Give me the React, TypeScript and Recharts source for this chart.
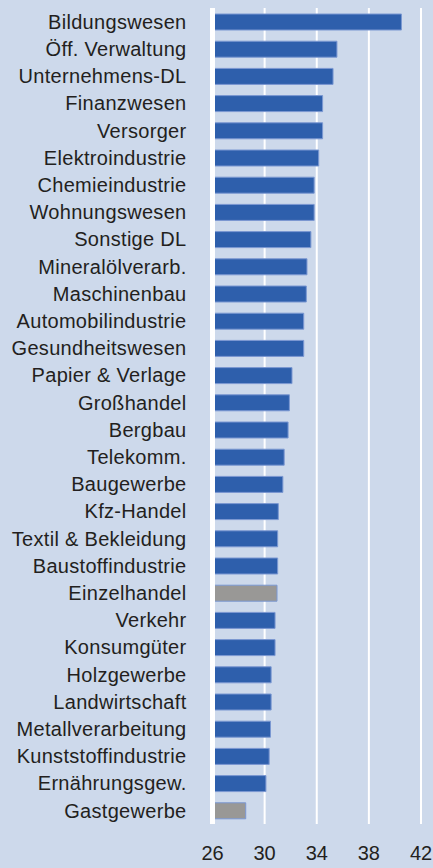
import React from 'react';
import { BarChart, Bar, XAxis, YAxis, CartesianGrid, Cell } from 'recharts';

const branchen = [
  'Bildungswesen', 'Öff. Verwaltung', 'Unternehmens-DL', 'Finanzwesen', 'Versorger',
  'Elektroindustrie', 'Chemieindustrie', 'Wohnungswesen', 'Sonstige DL', 'Mineralölverarb.',
  'Maschinenbau', 'Automobilindustrie', 'Gesundheitswesen', 'Papier & Verlage', 'Großhandel',
  'Bergbau', 'Telekomm.', 'Baugewerbe', 'Kfz-Handel', 'Textil & Bekleidung',
  'Baustoffindustrie', 'Einzelhandel', 'Verkehr', 'Konsumgüter', 'Holzgewerbe',
  'Landwirtschaft', 'Metallverarbeitung', 'Kunststoffindustrie', 'Ernährungsgew.', 'Gastgewerbe',
];

const werte = [
  40.5, 35.55, 35.25, 34.45, 34.45,
  34.15, 33.8, 33.8, 33.55, 33.25,
  33.2, 33.0, 33.0, 32.1, 31.9,
  31.8, 31.5, 31.4, 31.05, 31.0,
  31.0, 30.95, 30.8, 30.8, 30.5,
  30.5, 30.45, 30.35, 30.1, 28.55,
];

// grau hervorgehobene Branchen
const hervorgehoben = ['Einzelhandel', 'Gastgewerbe'];

const xTicks = [26, 30, 34, 38, 42];

const data = branchen.map((name, i) => ({ name, wert: werte[i] }));

const font = '"Liberation Sans", Arial, sans-serif';

export default function App() {
  return (
    <div
      style={{
        position: 'absolute',
        left: 0,
        top: 0,
        width: 433,
        height: 868,
        background: '#cdd9eb',
        fontFamily: font,
      }}
    >
      <BarChart
        width={433}
        height={868}
        data={data}
        layout="vertical"
        margin={{ top: 8, right: 12, left: 0, bottom: 0 }}
        barSize={16}
      >
        <CartesianGrid horizontal={false} vertical={true} stroke="#ffffff" strokeWidth={2} />
        <XAxis
          type="number"
          domain={[26, 42]}
          ticks={xTicks}
          interval={0}
          height={44}
          axisLine={false}
          tickLine={false}
          tickSize={0}
          tickMargin={22}
          tick={{ fill: '#231f20', fontSize: 20, fontFamily: font }}
        />
        <YAxis
          dataKey="name"
          type="category"
          width={212.5}
          interval={0}
          axisLine={{ stroke: '#ffffff', strokeWidth: 5 }}
          tickLine={false}
          tickSize={0}
          tickMargin={26}
          tick={{ fill: '#231f20', fontSize: 20, fontFamily: font, letterSpacing: 0.3 }}
        />
        <Bar dataKey="wert" isAnimationActive={false} stroke="#7b98d2" strokeWidth={1}>
          {data.map((d, i) => (
            <Cell key={`cell-${i}`} fill={hervorgehoben.includes(d.name) ? '#999896' : '#2e5fac'} />
          ))}
        </Bar>
      </BarChart>
    </div>
  );
}
